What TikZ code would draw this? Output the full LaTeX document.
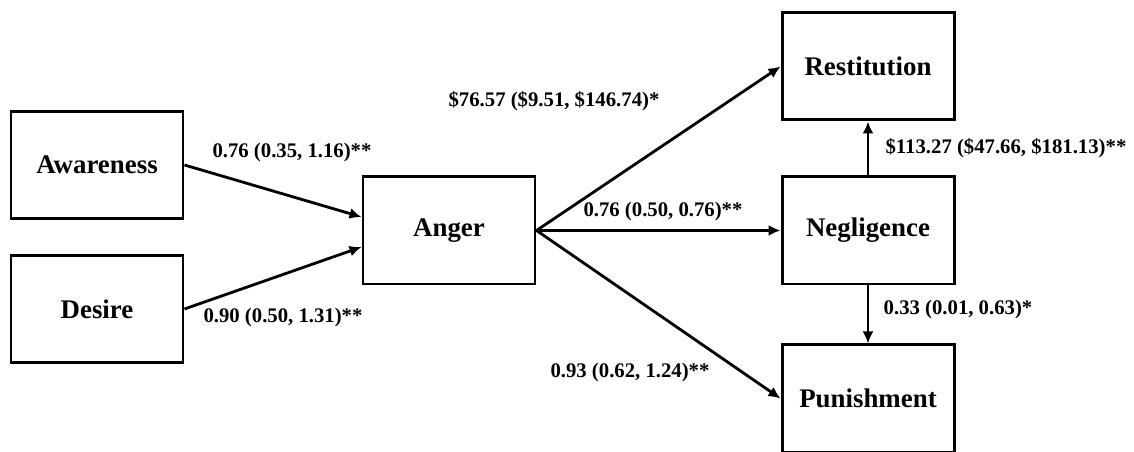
\documentclass[tikz,border=0pt]{standalone}
\usepackage{fontspec}
\setmainfont{Liberation Serif}
\usetikzlibrary{arrows.meta}
\begin{document}
\begin{tikzpicture}[scale=1]
 \tikzstyle{boite}=[rectangle, draw, line width=1.7pt, minimum width=3.44cm, minimum height=2.14cm, font=\fontsize{15.3}{18}\selectfont\bfseries]
 \tikzstyle{fleche}=[-{Latex[length=2.4mm, width=2.2mm]}, line width=1.6pt]
 \tikzstyle{coef}=[font=\fontsize{11.8}{14}\selectfont\bfseries, inner sep=0pt]
 \useasboundingbox (0, 0) rectangle (22.68, 9.04);
 %
 \node[boite] (Aw) at (1.94, 5.74) {Awareness};
 \node[boite] (De) at (1.94, 2.86) {Desire};
 %
 \node[boite] (An) at (8.98, 4.43) {Anger};
 %
 \node[boite] (Re) at (17.36, 7.71) {Restitution};
 \node[boite] (Ne) at (17.36, 4.43) {Negligence};
 \node[boite] (Pu) at (17.36, 1.07) {Punishment};
 %%
 \draw[fleche] (Aw.east)--([yshift=0.27cm]An.west);
 \draw[fleche] (De.east)--([yshift=-0.33cm]An.west);
 \draw[fleche] (An.east)--(Re.west);
 \draw[fleche] (An.east)--(Ne.west);
 \draw[fleche] (An.east)--(Pu.west);
 \draw[fleche] (Ne.north)--(Re.south);
 \draw[fleche] (Ne.south)--(Pu.north);
 %%
 \node[coef] (c1) at (5.84, 5.98) {0.76 (0.35, 1.16)**};
 \node[coef] (c2) at (5.66, 2.68) {0.90 (0.50, 1.31)**};
 \node[coef] (c3) at (11.08, 7.02) {\$76.57 (\$9.51, \$146.74)*};
 \node[coef] (c4) at (13.26, 4.80) {0.76 (0.50, 0.76)**};
 \node[coef] (c5) at (12.60, 1.58) {0.93 (0.62, 1.24)**};
 \node[coef] (c6) at (20.12, 6.08) {\$113.27 (\$47.66, \$181.13)**};
 \node[coef] (c7) at (19.16, 2.84) {0.33 (0.01, 0.63)*};
\end{tikzpicture}
\end{document}
